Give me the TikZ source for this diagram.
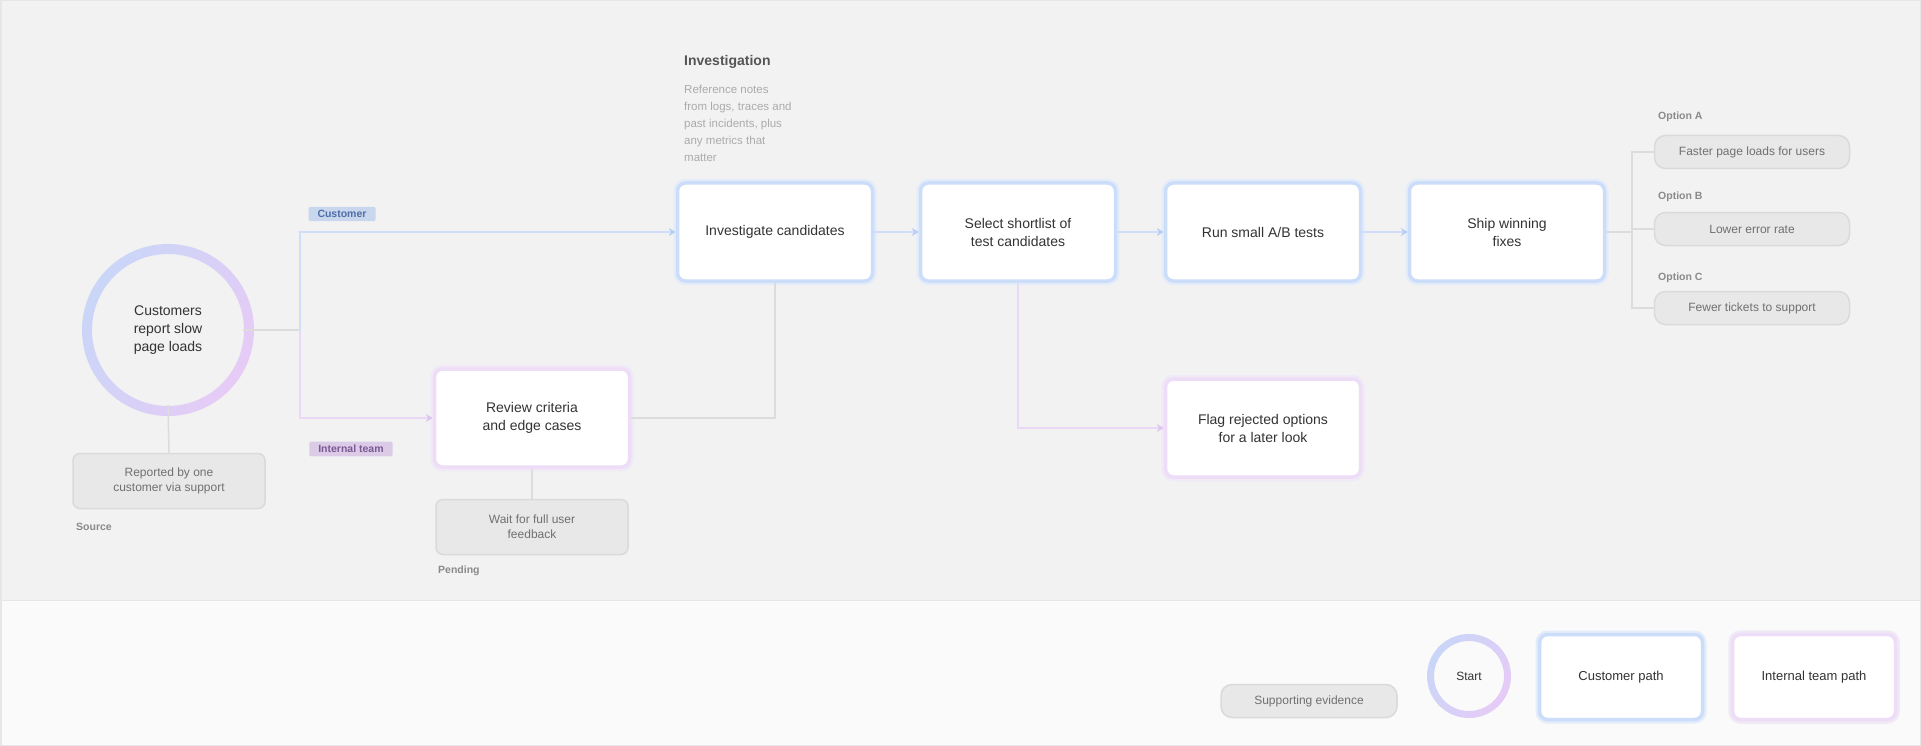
\documentclass[tikz,border=0pt]{standalone}
\usepackage{fontspec}
\setmainfont{Liberation Sans}
\usetikzlibrary{arrows.meta,positioning}
\definecolor{bgtop}{HTML}{F2F2F2}
\definecolor{bgbot}{HTML}{FAFAFA}
\definecolor{framec}{HTML}{E6E6E6}
\definecolor{bluebd}{HTML}{CCDDFA}
\definecolor{blueglow}{HTML}{E4ECFA}
\definecolor{blueln}{HTML}{CFDFF9}
\definecolor{bluetip}{HTML}{B8CEF6}
\definecolor{purpbd}{HTML}{EDDDF7}
\definecolor{purpglow}{HTML}{F1E9F6}
\definecolor{purpln}{HTML}{EAD9F6}
\definecolor{purptip}{HTML}{DDC5F0}
\definecolor{ringblue}{HTML}{C9D6F8}
\definecolor{ringpurp}{HTML}{E6CBF6}
\definecolor{txt}{HTML}{333333}
\definecolor{notefill}{HTML}{E8E8E8}
\definecolor{notebd}{HTML}{DADADA}
\definecolor{notetxt}{HTML}{707070}
\definecolor{captxt}{HTML}{8A8A8A}
\definecolor{grayln}{HTML}{DCDCDC}
\definecolor{tagbfill}{HTML}{C8D6EE}
\definecolor{tagbtxt}{HTML}{4F6FA6}
\definecolor{tagpfill}{HTML}{DCCBE7}
\definecolor{tagptxt}{HTML}{7A5994}
\definecolor{headtxt}{HTML}{555555}
\definecolor{softtxt}{HTML}{ABABAB}
\begin{document}
\begin{tikzpicture}[x=1pt,y=-1pt,
  flowbox/.style={draw=bluebd, line width=3.5pt, fill=white, rounded corners=8pt,
    preaction={draw=blueglow, line width=8pt},
    minimum width=195pt, minimum height=98pt, align=center, text=txt,
    font=\fontsize{14}{18}\selectfont, inner sep=0pt},
  sidebox/.style={flowbox, draw=purpbd, preaction={draw=purpglow, line width=8pt}},
  notebox/.style={draw=notebd, line width=1.5pt, fill=notefill, rounded corners=7pt,
    minimum width=192pt, minimum height=55pt, align=center, text=notetxt,
    font=\fontsize{12}{15}\selectfont, inner sep=0pt},
  pillbox/.style={notebox, rounded corners=11pt, minimum width=195pt, minimum height=33pt},
  caption/.style={anchor=west, text=captxt, font=\bfseries\fontsize{10.5}{12}\selectfont, inner sep=0pt},
  tagbox/.style={rounded corners=2pt, inner xsep=9pt, inner ysep=3.5pt,
    font=\bfseries\fontsize{10.5}{12}\selectfont},
  bline/.style={draw=blueln, line width=2.5pt},
  pline/.style={draw=purpln, line width=2.5pt},
  gline/.style={draw=grayln, line width=1.5pt},
  btip/.style={-{Stealth[length=7pt,width=8pt,color=bluetip]}},
  ptip/.style={-{Stealth[length=7pt,width=8pt,color=purptip]}},
  ring/.style={even odd rule, left color=ringblue, right color=ringpurp, shading angle=60},
  startnode/.style={circle, minimum size=150pt, align=center, text=txt,
    font=\fontsize{14}{18}\selectfont, inner sep=0pt}
]
\useasboundingbox (0,0) rectangle (1921,746);
% background
\fill[bgtop] (0,0) rectangle (1921,600);
\fill[bgbot] (0,600) rectangle (1921,746);
\draw[framec, line width=1pt] (0,600) -- (1921,600);
\draw[framec, line width=1.5pt] (0.75,0.75) rectangle (1920.25,745.25);

% start circle
\shade[ring] (168,330) circle (86pt) (168,330) circle (76pt);
\node[startnode] (start) at (168,330) {Customers\\report slow\\page loads};

% note under circle
\node[notebox] (n1) at (169,481) {Reported by one\\customer via support};
\node[caption] (c1) at (76,527) {Source};

% branch tags
\node[tagbox, fill=tagbfill, text=tagbtxt] (tagc) at (342,214) {Customer};
\node[tagbox, fill=tagpfill, text=tagptxt] (tagi) at (351,449) {Internal team};

% review box and its note
\node[sidebox] (review) at (532,418) {Review criteria\\and edge cases};
\node[notebox] (n2) at (532,527) {Wait for full user\\feedback};
\node[caption] (c2) at (438,571) {Pending};

% investigation heading and notes
\node[anchor=west, text=headtxt, font=\bfseries\fontsize{14}{16}\selectfont, inner sep=0pt] (head) at (684,62) {Investigation};
\node[anchor=north west, text=softtxt, align=left, font=\fontsize{11.5}{17}\selectfont, inner sep=0pt] (hnote) at (684,85)
  {Reference notes\\from logs, traces and\\past incidents, plus\\any metrics that\\matter};

% main flow
\node[flowbox] (b1) at (775,232) {Investigate candidates};
\node[flowbox] (b2) at (1018,232) {Select shortlist of\\test candidates};
\node[flowbox] (b3) at (1263,232) {Run small A/B tests};
\node[flowbox] (b4) at (1507,232) {Ship winning\\fixes};
\node[sidebox] (flag) at (1263,428) {Flag rejected options\\for a later look};

% right outcomes
\node[caption] (o1) at (1658,117) {Option A};
\node[pillbox] (p1) at (1752,152) {Faster page loads for users};
\node[caption] (o2) at (1658,197) {Option B};
\node[pillbox] (p2) at (1752,229) {Lower error rate};
\node[caption] (o3) at (1658,278) {Option C};
\node[pillbox] (p3) at (1752,308) {Fewer tickets to support};

% connectors
\coordinate (j) at (300,330);
\draw[gline] (start.east) -- (j);
\draw[bline, btip] (j) |- (b1.west);
\draw[pline, ptip] (j) |- (review.west);
\draw[gline] (start.south) -- (n1.north);
\draw[gline] (review.south) -- (n2.north);
\draw[gline] (review.east) -| (b1.south);
\draw[bline, btip] (b1.east) -- (b2.west);
\draw[bline, btip] (b2.east) -- (b3.west);
\draw[bline, btip] (b3.east) -- (b4.west);
\draw[pline, ptip] (b2.south) |- (flag.west);
\coordinate (rj) at (1632,232);
\draw[gline] (b4.east) -- (rj);
\draw[gline] (rj) |- (p1.west);
\draw[gline] (rj) |- (p2.west);
\draw[gline] (rj) |- (p3.west);

% legend
\node[pillbox, minimum width=176pt] (lg1) at (1309,701) {Supporting evidence};
\shade[ring] (1469,676) circle (42pt) (1469,676) circle (35pt);
\node[startnode, minimum size=70pt, font=\fontsize{12}{14}\selectfont] (lg2) at (1469,676) {Start};
\node[flowbox, minimum width=163pt, minimum height=85pt, font=\fontsize{13}{16}\selectfont] (lg3) at (1621,677) {Customer path};
\node[sidebox, minimum width=163pt, minimum height=85pt, font=\fontsize{13}{16}\selectfont] (lg4) at (1814,677) {Internal team path};
\end{tikzpicture}
\end{document}
